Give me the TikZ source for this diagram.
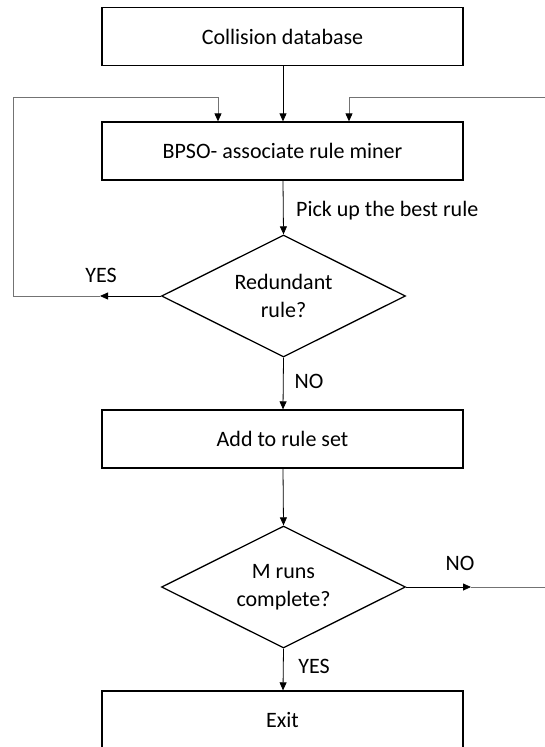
\documentclass[tikz,border=0pt]{standalone}
\usepackage{fontspec}
\setmainfont{Carlito}
\usetikzlibrary{shapes.geometric,arrows.meta}
\begin{document}
\begin{tikzpicture}[x=1pt,y=-1pt,
  font=\fontsize{22}{28}\selectfont,
  procbox/.style={draw=black,line width=1.3pt,fill=white,rectangle,inner sep=0pt,
    minimum width=361pt,minimum height=58pt},
  decision/.style={draw=black,line width=1.3pt,fill=white,diamond,aspect=2,inner sep=0pt,
    minimum width=244pt,minimum height=122pt,align=center},
  flow/.style={draw=black,line width=0.8pt,-{Triangle[length=8pt,width=7pt]}},
  loopline/.style={draw=black!55,line width=0.9pt},
  looparrow/.style={draw=black!55,line width=0.9pt,-{Triangle[length=8pt,width=7pt,black]}},
  lbl/.style={inner sep=0pt}]
\useasboundingbox (0,0) rectangle (545,747);

% process boxes and decisions
\node[procbox] (db) at (282.5,36.5) {Collision database};
\node[procbox] (miner) at (282.5,151) {BPSO- associate rule miner};
\node[decision] (redund) at (283.5,296) {Redundant\\rule?};
\node[procbox] (add) at (282.5,439) {Add to rule set};
\node[decision] (runs) at (283.5,587) {M runs\\complete?};
\node[procbox] (exit) at (282.5,720) {Exit};

% main flow
\draw[flow] (db.south -| 283,0) -- (miner.north -| 283,0);
\draw[flow] (miner.south -| 283,0) -- (redund.north);
\draw[flow] (redund.south) -- (add.north -| 283,0);
\draw[flow] (add.south -| 283,0) -- (runs.north);
\draw[flow] (runs.south) -- (exit.north -| 283,0);

% YES branch of the redundancy test loops back to the miner
\coordinate (yesend) at (100,296);
\draw[flow] (redund.west) -- (yesend);
\draw[looparrow] (yesend) -- (13,296) -- (13,97) -| (miner.north -| 218,0);

% NO branch of the run counter loops back to the miner
\coordinate (noend) at (471,587);
\coordinate (rightedge) at (545,587);
\coordinate (righttop) at (545,97);
\draw[flow] (runs.east) -- (noend);
\draw[loopline] (noend) -- (rightedge);
\draw[looparrow] (righttop) -| (miner.north -| 349,0);

% labels
\node[lbl,anchor=west] (pick) at (296,211) {Pick up the best rule};
\node[lbl] (yes1) at (101,275) {YES};
\node[lbl] (no1) at (309,381) {NO};
\node[lbl] (no2) at (460,563) {NO};
\node[lbl] (yes2) at (314,666) {YES};
\end{tikzpicture}
\end{document}
